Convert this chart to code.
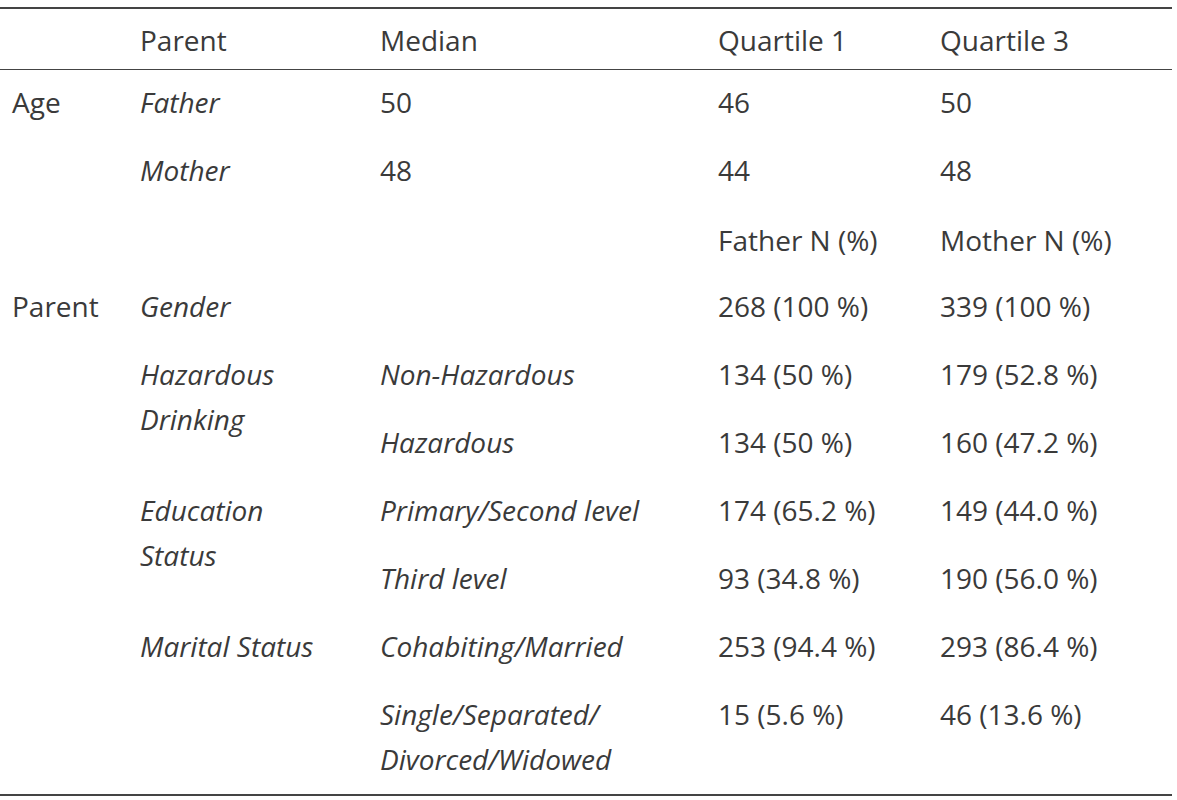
<!DOCTYPE html>
<html><head><meta charset="utf-8">
<script src="https://cdn.jsdelivr.net/npm/chart.js@4"></script>
<style>
html,body{margin:0;background:#fff;width:1177px;height:800px;overflow:hidden}
#t{position:relative;width:1177px;height:800px;font-family:"Open Sans",sans-serif;font-size:28px;color:#3a3a3a}
.c{position:absolute;white-space:nowrap;line-height:40px;height:40px}
.i{font-style:italic}
.ln{position:absolute;left:0;width:1172px;background:#444}
</style></head><body>
<div id="t"></div>
<script>
const headers = ["Parent","Median","Quartile 1","Quartile 3"];
const ageRows = [["Father","50","46","50"],["Mother","48","44","48"]];
const subHeaders = ["Father N (%)","Mother N (%)"];
const groups = [
 {label:["Parent"],var:["Gender"],levels:[[["" ],"268 (100 %)","339 (100 %)"]]},
 {label:[],var:["Hazardous","Drinking"],levels:[[["Non-Hazardous"],"134 (50 %)","179 (52.8 %)"],[["Hazardous"],"134 (50 %)","160 (47.2 %)"]]},
 {label:[],var:["Education","Status"],levels:[[["Primary/Second level"],"174 (65.2 %)","149 (44.0 %)"],[["Third level"],"93 (34.8 %)","190 (56.0 %)"]]},
 {label:[],var:["Marital Status"],levels:[[["Cohabiting/Married"],"253 (94.4 %)","293 (86.4 %)"],[["Single/Separated/","Divorced/Widowed"],"15 (5.6 %)","46 (13.6 %)"]]}
];
const colX=[12,140,380,718,940];
const t=document.getElementById('t');
function put(x,y,s,it){const d=document.createElement('div');d.className='c'+(it?' i':'');d.style.left=x+'px';d.style.top=(y-20)+'px';d.textContent=s;t.appendChild(d);}
function line(y,h){const d=document.createElement('div');d.className='ln';d.style.top=y+'px';d.style.height=h+'px';t.appendChild(d);}
line(7,2);line(69,1);line(794,2);
headers.forEach((h,i)=>put(colX[i+1],40,h));
put(colX[0],102,"Age");
ageRows.forEach((r,k)=>{const y=102+68*k;put(colX[1],y,r[0],true);for(let j=1;j<4;j++)put(colX[j+1],y,r[j]);});
put(colX[3],240,subHeaders[0]);put(colX[4],240,subHeaders[1]);
let y=306;
groups.forEach(g=>{
  g.label.forEach((s,k)=>put(colX[0],y+45*k,s));
  g.var.forEach((s,k)=>put(colX[1],y+45*k,s,true));
  g.levels.forEach(l=>{l[0].forEach((s,k)=>{if(s)put(colX[2],y+45*k,s,true);});put(colX[3],y,l[1]);put(colX[4],y,l[2]);y+=68;});
});
</script></body></html>
